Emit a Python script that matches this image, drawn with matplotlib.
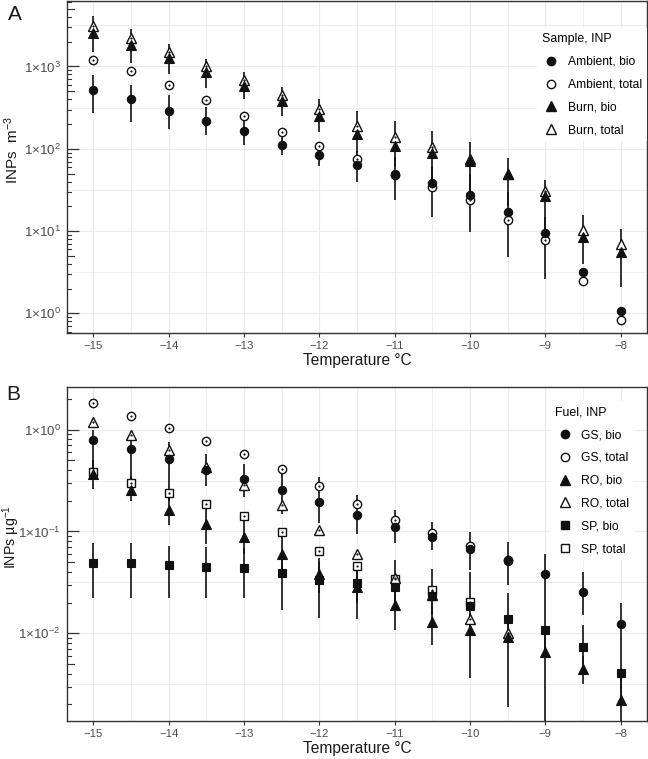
import numpy as np
import matplotlib
matplotlib.use("Agg")
import matplotlib.pyplot as plt
from matplotlib.lines import Line2D
from matplotlib.ticker import FixedLocator, NullFormatter

plt.rcParams['font.family'] = ['Liberation Sans', 'DejaVu Sans']
plt.rcParams['mathtext.fontset'] = 'custom'
plt.rcParams['mathtext.rm'] = 'Liberation Sans'
plt.rcParams['mathtext.it'] = 'Liberation Sans:italic'
plt.rcParams['mathtext.bf'] = 'Liberation Sans:bold'

# ---------------- data ----------------
temps = [-15, -14.5, -14, -13.5, -13, -12.5, -12, -11.5, -11, -10.5, -10, -9.5, -9, -8.5, -8]
x_ticks = [-15, -14, -13, -12, -11, -10, -9, -8]

# Panel A: INPs per m^3
amb_bio = [518, 403, 290, 220, 166, 111, 85, 64, 50, 38.6, 27.6, 17, 9.6, 3.2, 1.06]
amb_bio_lo = [270, 210, 174, 147, 112, 85, 61, 40, 24, 14.8, 9.7, 4.8, 2.6, 2.9, 1.0]
amb_bio_hi = [780, 600, 450, 320, 240, 160, 120, 95, 80, 60, 50, 30, 15, 3.2, 1.06]
amb_total = [1205, 887, 600, 392, 252, 158, 107, 75.5, 48, 34, 24, 13.5, 7.7, 2.5, 0.84]
burn_bio = [2540, 1820, 1285, 863, 583, 384, 252, 151, 109, 88, 72, 50, 27, 8.4, 5.6]
burn_bio_lo = [1500, 1100, 800, 550, 400, 250, 160, 90, 60, 40, 30, 20, 10, 4, 2.1]
burn_bio_hi = [4110, 2840, 1870, 1230, 846, 556, 403, 285, 215, 166, 120, 78, 42, 15.8, 10.6]
burn_total = [3110, 2210, 1510, 1020, 683, 454, 305, 190, 138, 104, 75, 50, 30.5, 10.4, 7.0]

# Panel B: INPs per microgram
gs_bio = [0.785, 0.65, 0.519, 0.405, 0.330, 0.2575, 0.193, 0.146, 0.110, 0.088, 0.0667, 0.0512, 0.0379, 0.0252, 0.0124]
gs_bio_lo = [0.32, 0.26, 0.2, 0.28, 0.22, 0.15, 0.12, 0.095, 0.077, 0.065, 0.042, 0.03, 0.02, 0.015, 0.008]
gs_bio_hi = [1.0, 0.85, 0.75, 0.58, 0.46, 0.44, 0.34, 0.226, 0.161, 0.124, 0.0986, 0.0787, 0.0605, 0.040, 0.0198]
gs_total = [1.83, 1.35, 1.04, 0.773, 0.572, 0.414, 0.279, 0.1875, 0.1306, 0.0964, 0.0714, 0.0528, 0.0379, 0.0252, 0.0124]
ro_bio = [0.37, 0.2575, 0.164, 0.1174, 0.088, 0.0605, 0.0379, 0.0284, 0.0188, 0.0129, 0.0107, 0.0092, 0.0066, 0.00442, 0.00219]
ro_bio_lo = [0.26, 0.2, 0.115, 0.076, 0.06, 0.04, 0.025, 0.0139, 0.0108, 0.0076, 0.0036, 0.0019, 0.001, 0.0032, 0.001]
ro_bio_hi = [0.5, 0.35, 0.25, 0.18, 0.14, 0.09, 0.055, 0.045, 0.03, 0.02, 0.016, 0.014, 0.01, 0.006, 0.004]
ro_total = [1.19, 0.879, 0.626, 0.43, 0.288, 0.18, 0.1025, 0.0596, 0.0352, 0.024, 0.0139, 0.0101, 0.0066, 0.00442, 0.00219]
sp_bio = [0.049, 0.049, 0.0465, 0.0448, 0.0437, 0.0391, 0.0331, 0.0314, 0.0285, 0.0232, 0.0185, 0.0139, 0.0107, 0.00733, 0.0041]
sp_bio_lo = [0.022, 0.022, 0.022, 0.022, 0.022, 0.017, 0.0142, 0.02, 0.02, 0.015, 0.01, 0.008, 0.006, 0.005, 0.002]
sp_bio_hi = [0.077, 0.077, 0.072, 0.071, 0.068, 0.057, 0.05, 0.05, 0.053, 0.043, 0.04, 0.025, 0.02, 0.012, 0.008]
sp_total = [0.383, 0.299, 0.239, 0.1846, 0.1407, 0.0987, 0.0642, 0.0454, 0.0344, 0.0268, 0.0202, 0.0139, 0.0107, 0.00733, 0.0041]

# ---------------- style ----------------
W, H = 648, 759
fig = plt.figure(figsize=(W / 100, H / 100), dpi=100)

BORDER = '#333333'
GRID = '#ebebeb'
TICKLAB = '#4d4d4d'
MS = {'o': 6.0, '^': 7.5, 's': 6.0}


def px_axes(left, top, right, bottom):
    return fig.add_axes([left / W, (H - bottom) / H, (right - left) / W, (bottom - top) / H])


def style_axes(ax, ymin_exp, ymax_exp, decades):
    ax.set_yscale('log')
    ax.set_xlim(-15.35, -7.65)
    ax.set_ylim(10 ** ymin_exp, 10 ** ymax_exp)
    for s in ax.spines.values():
        s.set_color(BORDER)
        s.set_linewidth(1.0)
    # x ticks
    ax.xaxis.set_major_locator(FixedLocator(x_ticks))
    ax.set_xticklabels(['\u2212' + str(abs(t)) for t in x_ticks])
    ax.xaxis.set_minor_locator(FixedLocator([t + 0.5 for t in x_ticks[:-1]]))
    ax.tick_params(axis='x', which='major', direction='out', length=3, width=0.8,
                   color=BORDER, labelsize=8.2, labelcolor=TICKLAB, pad=3)
    ax.tick_params(axis='x', which='minor', length=0)
    # y ticks
    ax.yaxis.set_major_locator(FixedLocator([10.0 ** d for d in decades]))
    ax.set_yticklabels(['1\u00d710$^{%d}$' % d if d >= 0 else '1\u00d710$^{\u2212%d}$' % (-d) for d in decades])
    mins = [10.0 ** (d + 0.5) for d in range(int(np.floor(ymin_exp)) - 1, int(np.ceil(ymax_exp)) + 1)]
    ax.yaxis.set_minor_locator(FixedLocator(mins))
    ax.yaxis.set_minor_formatter(NullFormatter())
    ax.tick_params(axis='y', which='major', direction='in', length=8.5, width=0.9,
                   color=BORDER, labelsize=9.6, labelcolor=TICKLAB, pad=4.5)
    ax.tick_params(axis='y', which='minor', length=0)
    ax.grid(True, which='major', color=GRID, linewidth=0.8, zorder=0)
    ax.grid(True, which='minor', color=GRID, linewidth=0.6, zorder=0)
    ax.set_axisbelow(True)
    # log ticks (annotation_logticks style)
    tr = ax.get_yaxis_transform()
    for d in range(int(np.floor(ymin_exp)) - 1, int(np.ceil(ymax_exp)) + 1):
        for m in range(2, 10):
            v = m * 10.0 ** d
            if 10 ** ymin_exp <= v <= 10 ** ymax_exp:
                ln = 6.5 / 580 if m == 5 else 3.5 / 580
                ax.plot([0, ln], [v, v], transform=tr, color=BORDER, lw=0.8,
                        clip_on=False, zorder=6)
    ax.set_xlabel('Temperature \u00b0C', fontsize=11.2, color='#1a1a1a', labelpad=1)


def errbars(ax, x, lo, hi):
    ax.vlines(x, lo, hi, color='#111111', lw=1.2, zorder=2)


def filled(ax, x, y, mk):
    ax.plot(x, y, ls='none', marker=mk, ms=MS[mk], mfc='#111111', mec='#111111', mew=0.8, zorder=5)


def opened(ax, x, y, mk, dots=True):
    ax.plot(x, y, ls='none', marker=mk, ms=MS[mk], mfc='white', mec='#111111', mew=1.0, zorder=4)
    if dots:
        ax.plot(x, y, ls='none', marker='o', ms=1.6, mfc='#111111', mec='none', zorder=4.5)


LEG_KW = dict(loc='upper left', frameon=True, fancybox=False, framealpha=1, edgecolor='none',
              facecolor='white', fontsize=8.7, title_fontsize=8.9, handlelength=1.6,
              handletextpad=0.55, labelspacing=0.9, borderpad=0.4, alignment='left',
              borderaxespad=0)

# ---------------- Panel A ----------------
axA = px_axes(67, 1, 647, 333)
style_axes(axA, -0.239, 3.796, [0, 1, 2, 3])
errbars(axA, temps, burn_bio_lo, burn_bio_hi)
errbars(axA, temps, amb_bio_lo, amb_bio_hi)
opened(axA, temps[:13], burn_total[:13], '^')
opened(axA, temps[13:], burn_total[13:], '^', dots=False)
opened(axA, temps[:13], amb_total[:13], 'o')
opened(axA, temps[13:], amb_total[13:], 'o', dots=False)
filled(axA, temps, burn_bio, '^')
filled(axA, temps, amb_bio, 'o')
axA.set_ylabel('INPs  m$^{\u22123}$', fontsize=11, color='#1a1a1a')
axA.yaxis.set_label_coords(-0.08, 0.55)

hA = [Line2D([], [], ls='none', marker='o', ms=MS['o'], mfc='#111111', mec='#111111'),
      Line2D([], [], ls='none', marker='o', ms=MS['o'], mfc='white', mec='#111111'),
      Line2D([], [], ls='none', marker='^', ms=MS['^'], mfc='#111111', mec='#111111'),
      Line2D([], [], ls='none', marker='^', ms=MS['^'], mfc='white', mec='#111111')]
legA = axA.legend(hA, ['Ambient, bio', 'Ambient, total', 'Burn, bio', 'Burn, total'],
                  title='Sample, INP', bbox_to_anchor=(0.81, 0.918), **LEG_KW)
legA.set_zorder(10)

# ---------------- Panel B ----------------
axB = px_axes(67, 387, 647, 721)
style_axes(axB, -2.861, 0.418, [-2, -1, 0])
errbars(axB, temps, sp_bio_lo, sp_bio_hi)
errbars(axB, temps, ro_bio_lo, ro_bio_hi)
errbars(axB, temps, gs_bio_lo, gs_bio_hi)
opened(axB, temps[:11], sp_total[:11], 's')
opened(axB, temps[:12], ro_total[:12], '^')
opened(axB, temps[:12], gs_total[:12], 'o')
filled(axB, temps, sp_bio, 's')
filled(axB, temps, ro_bio, '^')
filled(axB, temps, gs_bio, 'o')
axB.set_ylabel('INPs \u00b5g$^{\u22121}$', fontsize=10.3, color='#1a1a1a')
axB.yaxis.set_label_coords(-0.078, 0.55)

hB = [Line2D([], [], ls='none', marker='o', ms=MS['o'], mfc='#111111', mec='#111111'),
      Line2D([], [], ls='none', marker='o', ms=MS['o'], mfc='white', mec='#111111'),
      Line2D([], [], ls='none', marker='^', ms=MS['^'], mfc='#111111', mec='#111111'),
      Line2D([], [], ls='none', marker='^', ms=MS['^'], mfc='white', mec='#111111'),
      Line2D([], [], ls='none', marker='s', ms=MS['s'], mfc='#111111', mec='#111111'),
      Line2D([], [], ls='none', marker='s', ms=MS['s'], mfc='white', mec='#111111')]
legB = axB.legend(hB, ['GS, bio', 'GS, total', 'RO, bio', 'RO, total', 'SP, bio', 'SP, total'],
                  title='Fuel, INP', bbox_to_anchor=(0.833, 0.957), **LEG_KW)
legB.set_zorder(10)

fig.text(15 / W, 1 - 15 / H, 'A', fontsize=15, ha='center', va='center', color='#1a1a1a')
fig.text(13 / W, 1 - 394 / H, 'B', fontsize=15, ha='center', va='center', color='#1a1a1a')

fig.savefig('out.png', dpi=100)
